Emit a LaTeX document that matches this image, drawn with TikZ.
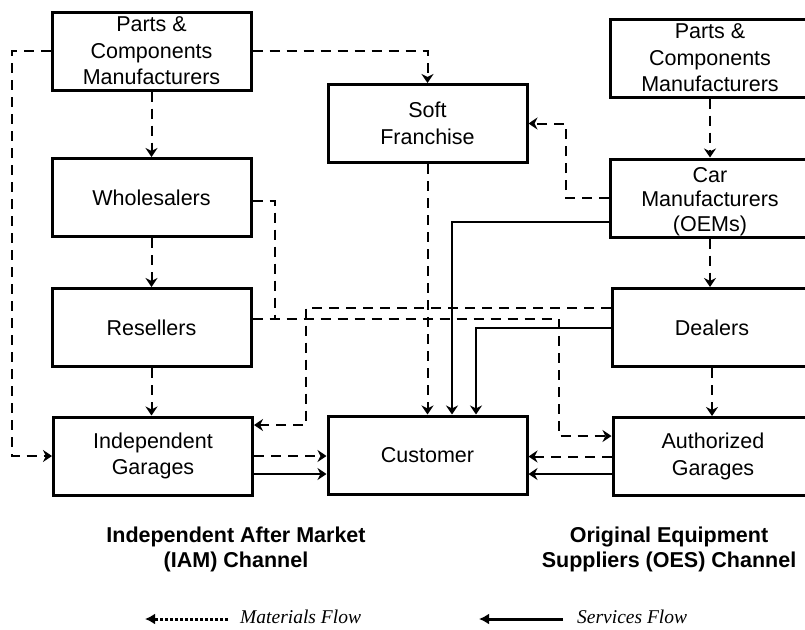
\documentclass[tikz,border=0pt]{standalone}
\usepackage{fontspec}
\setmainfont{Liberation Sans}
\newfontfamily\timesfont{Liberation Serif}
\usetikzlibrary{arrows.meta,positioning,calc}

\begin{document}
\begin{tikzpicture}[
    x=1pt, y=-1pt,
    box/.style={rectangle, draw, line width=3pt, minimum width=199pt, minimum height=78pt,
                inner sep=0pt, align=center, font=\fontsize{21.5}{26.5}\selectfont},
    mat/.style={-{Stealth[length=9pt,width=12pt,inset=3pt]}, line width=2pt, dash pattern=on 10pt off 7pt},
    matline/.style={line width=2pt, dash pattern=on 10pt off 7pt},
    serv/.style={-{Stealth[length=9pt,width=12pt,inset=3pt]}, line width=2pt},
    chan/.style={align=center, font=\fontsize{21.5}{25}\selectfont\bfseries},
    key/.style={anchor=west, inner sep=0pt, font=\timesfont\itshape\fontsize{19.5}{22}\selectfont}
]
\useasboundingbox (0,0) rectangle (805,629);

%% -- IAM channel (left) --
\node[box] (pcmL)  at (151.5,51)  {Parts \&\\Components\\Manufacturers};
\node[box] (whole) at (151.5,197.5) {Wholesalers};
\node[box] (resel) at (151.5,327.5) {Resellers};
\node[box] (indep) at (153,456)   {Independent\\Garages};

%% -- middle --
\node[box] (soft) at (427.5,123.5) {Soft\\Franchise};
\node[box] (cust) at (427.5,455)   {Customer};

%% -- OES channel (right) --
\node[box, minimum width=200pt] (pcmR) at (710,58)    {Parts \&\\Components\\Manufacturers};
\node[box, minimum width=200pt, align=flush center, font=\fontsize{21.5}{24.5}\selectfont] (carm) at (710,198)
    {\raisebox{-4pt}[\height][\depth]{\begin{tabular}{@{}c@{}}Car\\Manufacturers\\(OEMs)\end{tabular}}};
\node[box, minimum width=200pt] (deal) at (712,327.5) {Dealers};
\node[box, minimum width=200pt] (auth) at (713,456.5) {Authorized\\Garages};

%% -- left column arrows --
\draw[mat] (pcmL) -- (whole);
\draw[mat] (whole) -- (resel);
\draw[mat] (resel.south) -- (resel.south |- indep.north);
\draw[mat] (pcmL.west) -- ++(-39,0) |- (indep.west);
\draw[mat] (pcmL.east) -| (soft.north);

%% -- right column arrows --
\draw[mat] (pcmR) -- (carm);
\draw[mat] (carm.south) -- (carm.south |- deal.north);
\draw[mat] (deal.south) -- (deal.south |- auth.north);
\draw[mat] (carm.west) -- ++(-43,0) |- (soft.east);

%% -- into the customer --
\draw[mat]  (soft) -- (cust);
\draw[serv] ([yshift=-24pt]carm.west) -| ([xshift=24.5pt]cust.north);
\draw[serv] (deal.west) -| ([xshift=48.5pt]cust.north);
\draw[mat]  (indep.east) -- (indep.east -| cust.west);
\draw[serv] ([yshift=-18pt]indep.east) -- ([yshift=-18pt]indep.east -| cust.west);
\draw[mat]  (auth.west) -- (auth.west -| cust.east);
\draw[serv] ([yshift=-17.5pt]auth.west) -- ([yshift=-17.5pt]auth.west -| cust.east);

%% -- crossing flows --
\coordinate (join) at (275,319);
\draw[matline] ([yshift=-3.5pt]whole.east) -| (join);
\draw[mat] ([yshift=8.5pt]resel.east) -- ++(306,0) |- ([yshift=20.5pt]auth.west);
\draw[mat] ([yshift=20pt]deal.west) -- ++(-305,0) |- ([yshift=31pt]indep.east);

%% -- channel labels --
\node[chan] (iam) at (236,549) {Independent After Market\\(IAM) Channel};
\node[chan] (oes) at (669,549) {Original Equipment\\Suppliers (OES) Channel};

%% -- legend --
\node[key] (matkey)  at (240,617) {Materials Flow};
\node[key] (servkey) at (577,617) {Services Flow};
\coordinate (matend)  at (145,619);
\coordinate (servend) at (479,619);
\draw[-{Latex[length=10pt,width=11pt]}, line width=3pt, dash pattern=on 3pt off 2pt]
    ([xshift=-12pt,yshift=-2pt]matkey.west) -- (matend);
\draw[-{Latex[length=10pt,width=11pt]}, line width=3pt]
    ([xshift=-14pt,yshift=-2pt]servkey.west) -- (servend);

\end{tikzpicture}
\end{document}
